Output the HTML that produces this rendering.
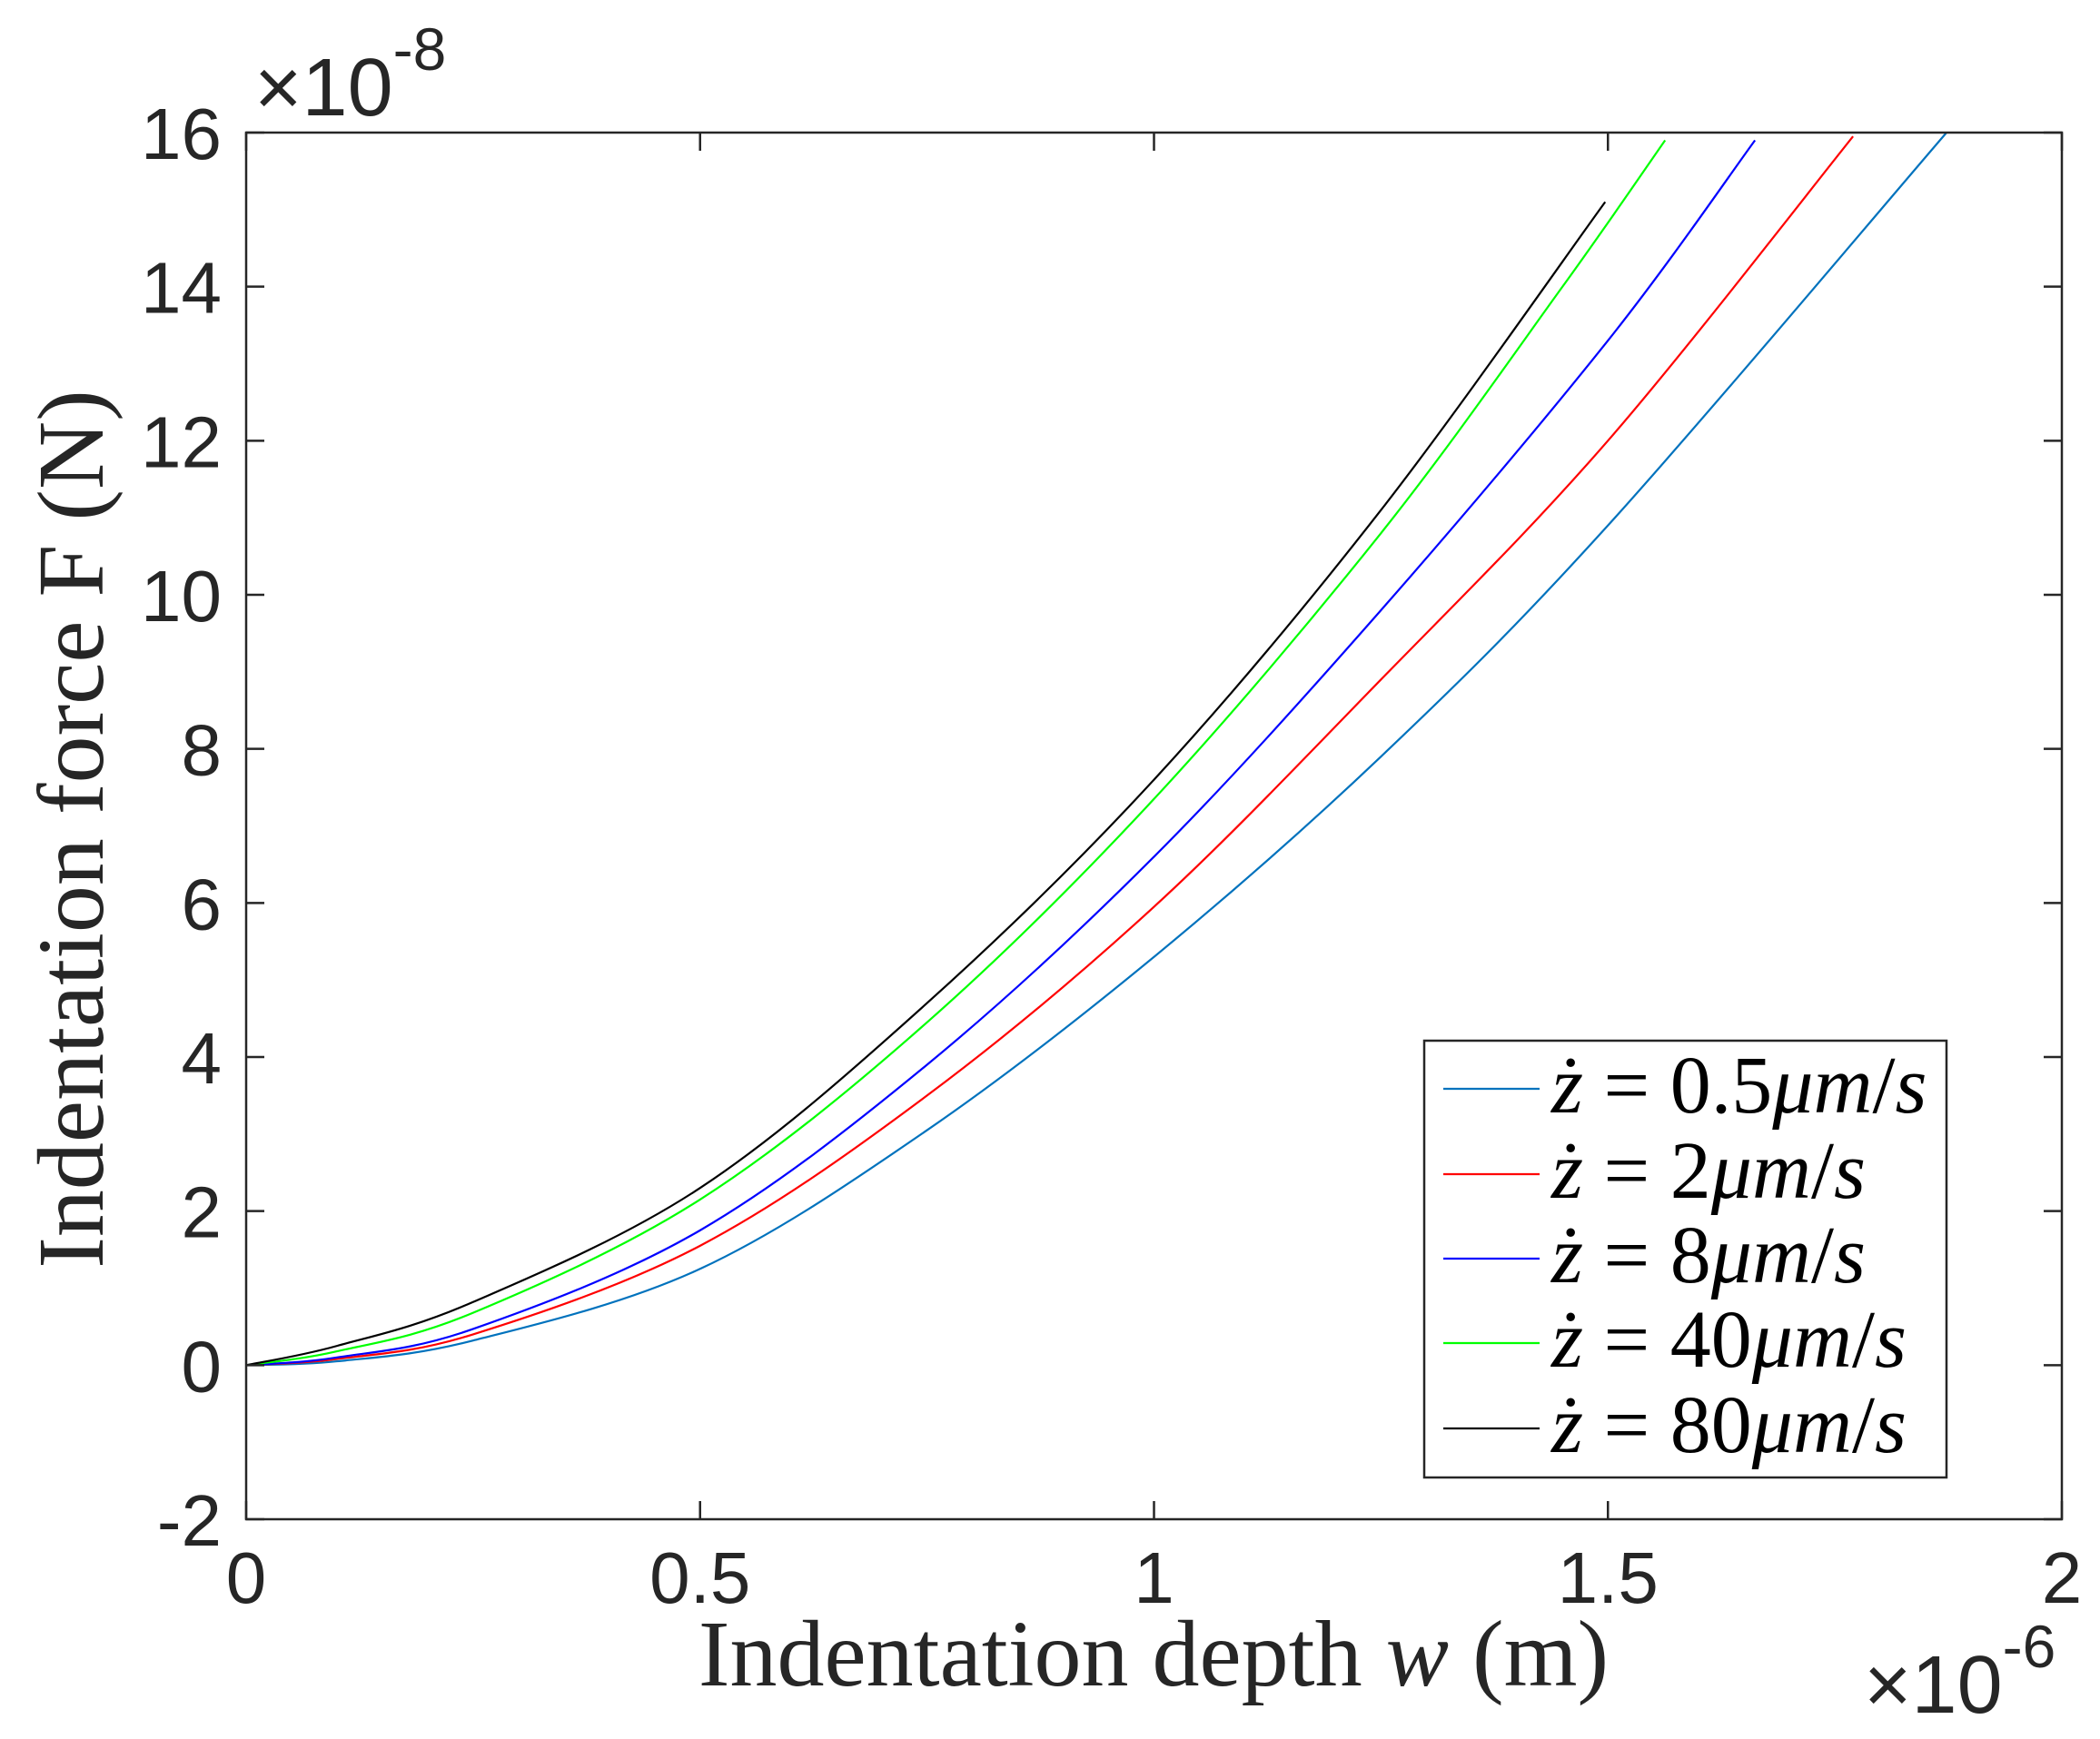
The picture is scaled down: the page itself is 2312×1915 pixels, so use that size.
<!DOCTYPE html>
<html><head><meta charset="utf-8"><style>
html,body{margin:0;padding:0;background:#fff}
svg{display:block}
</style></head><body>
<svg id="chart" width="2312" height="1915" viewBox="0 0 2312 1915" xmlns="http://www.w3.org/2000/svg">
<rect width="2312" height="1915" fill="#fff"/>
<g id="curves"></g>
<g id="axes"></g>
<text x="280" y="127" font-family="Liberation Sans, sans-serif" font-size="90" fill="#262626">×10<tspan font-size="66" dy="-50">-8</tspan></text>
<text x="2052" y="1886" font-family="Liberation Sans, sans-serif" font-size="90" fill="#262626">×10<tspan font-size="66" dy="-50">-6</tspan></text>
<text x="1270" y="1856" text-anchor="middle" font-family="Liberation Serif, serif" font-size="104" fill="#262626">Indentation depth <tspan font-style="italic">w</tspan> (m)</text>
<text transform="translate(113,913) rotate(-90)" text-anchor="middle" font-family="Liberation Serif, serif" font-size="104" fill="#262626">Indentation force F (N)</text>
<g id="legend"></g>
</svg>
<script>
const xTicks=[0,0.5,1,1.5,2];
const xTickLabels=["0","0.5","1","1.5","2"];
const yTicks=[-2,0,2,4,6,8,10,12,14,16];
const yTickLabels=["-2","0","2","4","6","8","10","12","14","16"];
const seriesNames=["0.5","2","8","40","80"];
const seriesColors=["#0072BD","#FF0000","#0000FF","#00FF00","#000000"];
const x05=[0,0.1,0.25,0.5,0.75,1,1.25,1.5,1.873];
const y05=[0,0.05,0.32,1.25,3.05,5.3,7.9,10.9,16];
const x2=[0,0.1,0.25,0.5,0.75,1,1.25,1.5,1.77];
const y2=[0,0.08,0.4,1.55,3.5,5.95,8.9,12.0,15.95];
const x8=[0,0.1,0.25,0.5,0.75,1,1.25,1.5,1.662];
const y8=[0,0.1,0.47,1.75,3.9,6.6,9.8,13.3,15.9];
const x40=[0,0.1,0.25,0.5,0.75,1,1.25,1.45,1.563];
const y40=[0,0.18,0.68,2.15,4.45,7.35,10.8,14.0,15.9];
const x80=[0,0.1,0.25,0.5,0.75,1,1.25,1.497];
const y80=[0,0.25,0.82,2.3,4.7,7.6,11.1,15.1];
const seriesX=[x05,x2,x8,x40,x80];
const seriesY=[y05,y2,y8,y40,y80];

const NS="http://www.w3.org/2000/svg";
const L=271,T=146,R=2270,B=1673;
function sx(v){return L+(v-0)/(2-0)*(R-L);}
function sy(v){return B-(v+2)/(16+2)*(B-T);}
function mk(tag,attrs,parent){const e=document.createElementNS(NS,tag);for(const k in attrs)e.setAttribute(k,attrs[k]);parent.appendChild(e);return e;}

function smoothPath(xs,ys){
  const p=xs.map((x,i)=>[sx(x),sy(ys[i])]);
  let d="M"+p[0][0]+","+p[0][1];
  for(let i=0;i<p.length-1;i++){
    const p0=p[i-1]||p[i],p1=p[i],p2=p[i+1],p3=p[i+2]||p2;
    const c1=[p1[0]+(p2[0]-p0[0])/6,p1[1]+(p2[1]-p0[1])/6];
    const c2=[p2[0]-(p3[0]-p1[0])/6,p2[1]-(p3[1]-p1[1])/6];
    d+=" C"+c1[0]+","+c1[1]+" "+c2[0]+","+c2[1]+" "+p2[0]+","+p2[1];
  }
  return d;
}

const curves=document.getElementById('curves');
seriesX.forEach((xs,i)=>{
  const p=mk('path',{d:smoothPath(xs,seriesY[i]),fill:'none',stroke:seriesColors[i],'stroke-width':2.2},curves);
  
  
});

const axes=document.getElementById('axes');
const frame=mk('rect',{x:L,y:T,width:R-L,height:B-T,fill:'none',stroke:'#262626','stroke-width':2.5},axes);


const tl=20;
xTicks.forEach((v,i)=>{
  const x=sx(v);
  mk('line',{x1:x,y1:B,x2:x,y2:B-tl,stroke:'#262626','stroke-width':2.5},axes);
  mk('line',{x1:x,y1:T,x2:x,y2:T+tl,stroke:'#262626','stroke-width':2.5},axes);
  const t=mk('text',{x:x,y:1765,'text-anchor':'middle','font-family':'Liberation Sans, sans-serif','font-size':80,fill:'#262626'},axes);
  t.textContent=xTickLabels[i];
  
  
});
yTicks.forEach((v,i)=>{
  const y=sy(v);
  mk('line',{x1:L,y1:y,x2:L+tl,y2:y,stroke:'#262626','stroke-width':2.5},axes);
  mk('line',{x1:R,y1:y,x2:R-tl,y2:y,stroke:'#262626','stroke-width':2.5},axes);
  const t=mk('text',{x:244,y:y+29,'text-anchor':'end','font-family':'Liberation Sans, sans-serif','font-size':80,fill:'#262626'},axes);
  t.textContent=yTickLabels[i];
  
  
});

const legend=document.getElementById('legend');
const lb=mk('rect',{x:1568,y:1146,width:575,height:481,fill:'#fff',stroke:'#262626','stroke-width':2.5},legend);


const rowY=[1199,1293,1386,1479,1573];
seriesNames.forEach((n,i)=>{
  const g=mk('g',{},legend);
  
  
  mk('line',{x1:1589,y1:rowY[i],x2:1695,y2:rowY[i],stroke:seriesColors[i],'stroke-width':2.2},g);
  const t=mk('text',{x:1708,y:rowY[i]+26,'font-family':'Liberation Serif, serif','font-size':90,fill:'#000'},g);
  t.innerHTML='<tspan font-style="italic">ż</tspan> = '+n+'<tspan font-style="italic">μm</tspan>/<tspan font-style="italic">s</tspan>';
});
</script>
</body></html>
